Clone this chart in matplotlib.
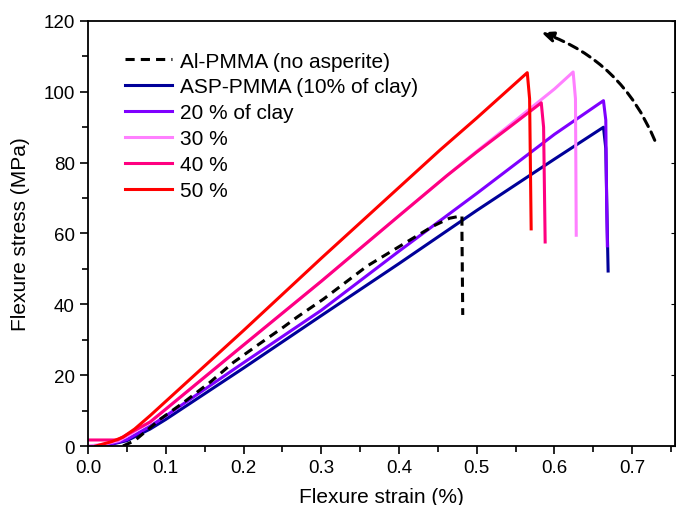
import matplotlib
matplotlib.use("Agg")
import matplotlib.pyplot as plt
from matplotlib.ticker import MultipleLocator

plt.rcParams['font.family'] = ['Liberation Sans', 'DejaVu Sans']

# strain (%) / stress (MPa)
strain_al = [0.045, 0.06, 0.093, 0.123, 0.157, 0.187, 0.217, 0.251, 0.269, 0.303,
             0.359, 0.41, 0.444, 0.465, 0.481, 0.481, 0.482]
stress_al = [0.0, 1.5, 7.6, 12.3, 18.0, 23.6, 28.3, 33.5, 36.4, 41.5,
             50.8, 57.6, 62.1, 64.3, 65.0, 60.0, 37.0]

strain_10 = [0.02, 0.05, 0.08, 0.1, 0.2, 0.3, 0.4, 0.5, 0.6, 0.663, 0.666, 0.668, 0.669]
stress_10 = [0.0, 1.5, 4.8, 7.5, 22.0, 36.8, 51.5, 66.5, 81.0, 90.0, 84.0, 60.0, 49.4]

strain_20 = [0.02, 0.05, 0.08, 0.1, 0.2, 0.3, 0.4, 0.5, 0.6, 0.663, 0.666, 0.667, 0.668]
stress_20 = [0.0, 1.8, 5.6, 8.5, 23.5, 38.3, 55.0, 71.3, 88.0, 97.5, 92.0, 70.0, 56.5]

strain_30 = [0.0, 0.02, 0.04, 0.05, 0.08, 0.1, 0.2, 0.3, 0.4, 0.462, 0.5, 0.539, 0.6,
             0.624, 0.627, 0.628]
stress_30 = [0.0, 0.5, 1.5, 2.8, 6.8, 10.4, 28.5, 46.5, 65.0, 76.4, 83.2, 90.0, 100.8,
             105.6, 98.0, 59.5]

strain_40 = [0.0, 0.038, 0.05, 0.08, 0.1, 0.2, 0.3, 0.4, 0.462, 0.5, 0.539, 0.583,
             0.586, 0.588]
stress_40 = [1.7, 1.7, 3.2, 6.8, 10.4, 28.5, 46.5, 65.0, 76.4, 83.0, 89.5, 96.9,
             90.0, 57.6]

strain_50 = [0.01, 0.03, 0.045, 0.06, 0.08, 0.1, 0.2, 0.3, 0.4, 0.453, 0.5, 0.565,
             0.568, 0.570]
stress_50 = [0.0, 1.2, 2.5, 4.8, 8.6, 12.6, 32.6, 53.0, 73.0, 83.6, 92.6, 105.4,
             98.0, 61.3]

labels = ['Al-PMMA (no asperite)', 'ASP-PMMA (10% of clay)', '20 % of clay',
          '30 %', '40 %', '50 %']
colors = ['black', '#000099', '#7f00ff', '#ff80ff', '#ff0080', '#ff0000']

fig = plt.figure(figsize=(6.76, 5.06), dpi=100)
ax = fig.add_axes([0.1302, 0.1166, 0.8683, 0.840])

lw = 2.2
h10, = ax.plot(strain_10, stress_10, color=colors[1], lw=lw, label=labels[1])
h20, = ax.plot(strain_20, stress_20, color=colors[2], lw=lw, label=labels[2])
h30, = ax.plot(strain_30, stress_30, color=colors[3], lw=lw, label=labels[3])
h40, = ax.plot(strain_40, stress_40, color=colors[4], lw=lw, label=labels[4])
h50, = ax.plot(strain_50, stress_50, color=colors[5], lw=lw, label=labels[5])
hal, = ax.plot(strain_al, stress_al, color=colors[0], lw=lw, ls=(0, (3, 2)),
               label=labels[0])

ax.set_xlim(0, 0.755)
ax.set_ylim(0, 120)
ax.xaxis.set_major_locator(MultipleLocator(0.1))
ax.xaxis.set_minor_locator(MultipleLocator(0.05))
ax.yaxis.set_major_locator(MultipleLocator(20))
ax.yaxis.set_minor_locator(MultipleLocator(10))
ax.xaxis.set_major_formatter(plt.FormatStrFormatter('%.1f'))

ax.tick_params(which='major', direction='out', length=6, width=1.2, labelsize=13.5)
ax.tick_params(which='minor', direction='out', length=4, width=1.2)
ax.tick_params(which='both', top=False, right=False)
ax.secondary_yaxis('right').tick_params(which='both', direction='in', length=3,
                                        labelright=False)
for s in ax.spines.values():
    s.set_linewidth(1.3)

ax.set_xlabel('Flexure strain (%)', fontsize=15, labelpad=8)
ax.set_ylabel('Flexure stress (MPa)', fontsize=15, labelpad=9.5)

ax.legend(handles=[hal, h10, h20, h30, h40, h50], loc='upper left',
          bbox_to_anchor=(0.063, 0.928), frameon=False, fontsize=15,
          handlelength=2.25, handletextpad=0.4, labelspacing=0.33,
          borderpad=0, borderaxespad=0)

# curved dashed arrow
ax.annotate('', xy=(0.583, 116.8), xytext=(0.729, 86.3),
            arrowprops=dict(arrowstyle='-|>,head_length=0.7,head_width=0.3',
                            linestyle=(0, (3, 2)), lw=2.2, color='black',
                            connectionstyle='arc3,rad=0.22', shrinkA=0, shrinkB=0))

fig.savefig('out.png', dpi=100)
